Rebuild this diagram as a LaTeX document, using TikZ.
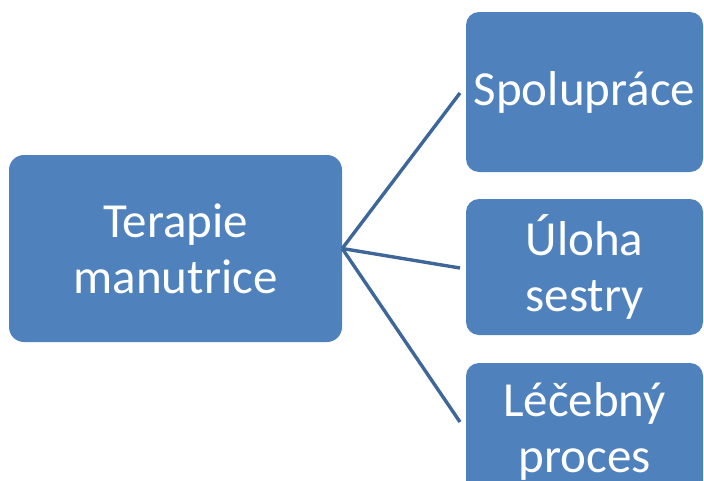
\documentclass[tikz,border=0pt]{standalone}
\usepackage{fontspec}
\setmainfont{Carlito}
\definecolor{boxblue}{HTML}{4F81BD}
\definecolor{lineblue}{HTML}{3E6698}
\begin{document}
\begin{tikzpicture}[x=1pt,y=-1pt,
  box/.style={rectangle, rounded corners=13pt, fill=boxblue, draw=none,
    text=white, align=center, inner sep=0pt,
    font=\fontsize{49}{56}\selectfont},
  link/.style={draw=lineblue, line width=3.4pt}]
\useasboundingbox (0,0) rectangle (704,480);
\node[box, rounded corners=15pt, minimum width=333pt, minimum height=187pt] (root) at (175.5,248.5) {Terapie\\manutrice};
\node[box, minimum width=237pt, minimum height=160pt] (a) at (584.5,92) {Spolupráce};
\node[box, minimum width=237pt, minimum height=136pt] (b) at (584.5,267) {Úloha\\sestry};
\node[box, minimum width=237pt, minimum height=136pt] (c) at (584.5,431) {Léčebný\\proces};
\coordinate (ea) at (460,93);
\coordinate (eb) at (460,268);
\coordinate (ec) at (460,422);
\draw[link] (root.east) -- (ea);
\draw[link] (root.east) -- (eb);
\draw[link] (root.east) -- (ec);
\end{tikzpicture}
\end{document}
